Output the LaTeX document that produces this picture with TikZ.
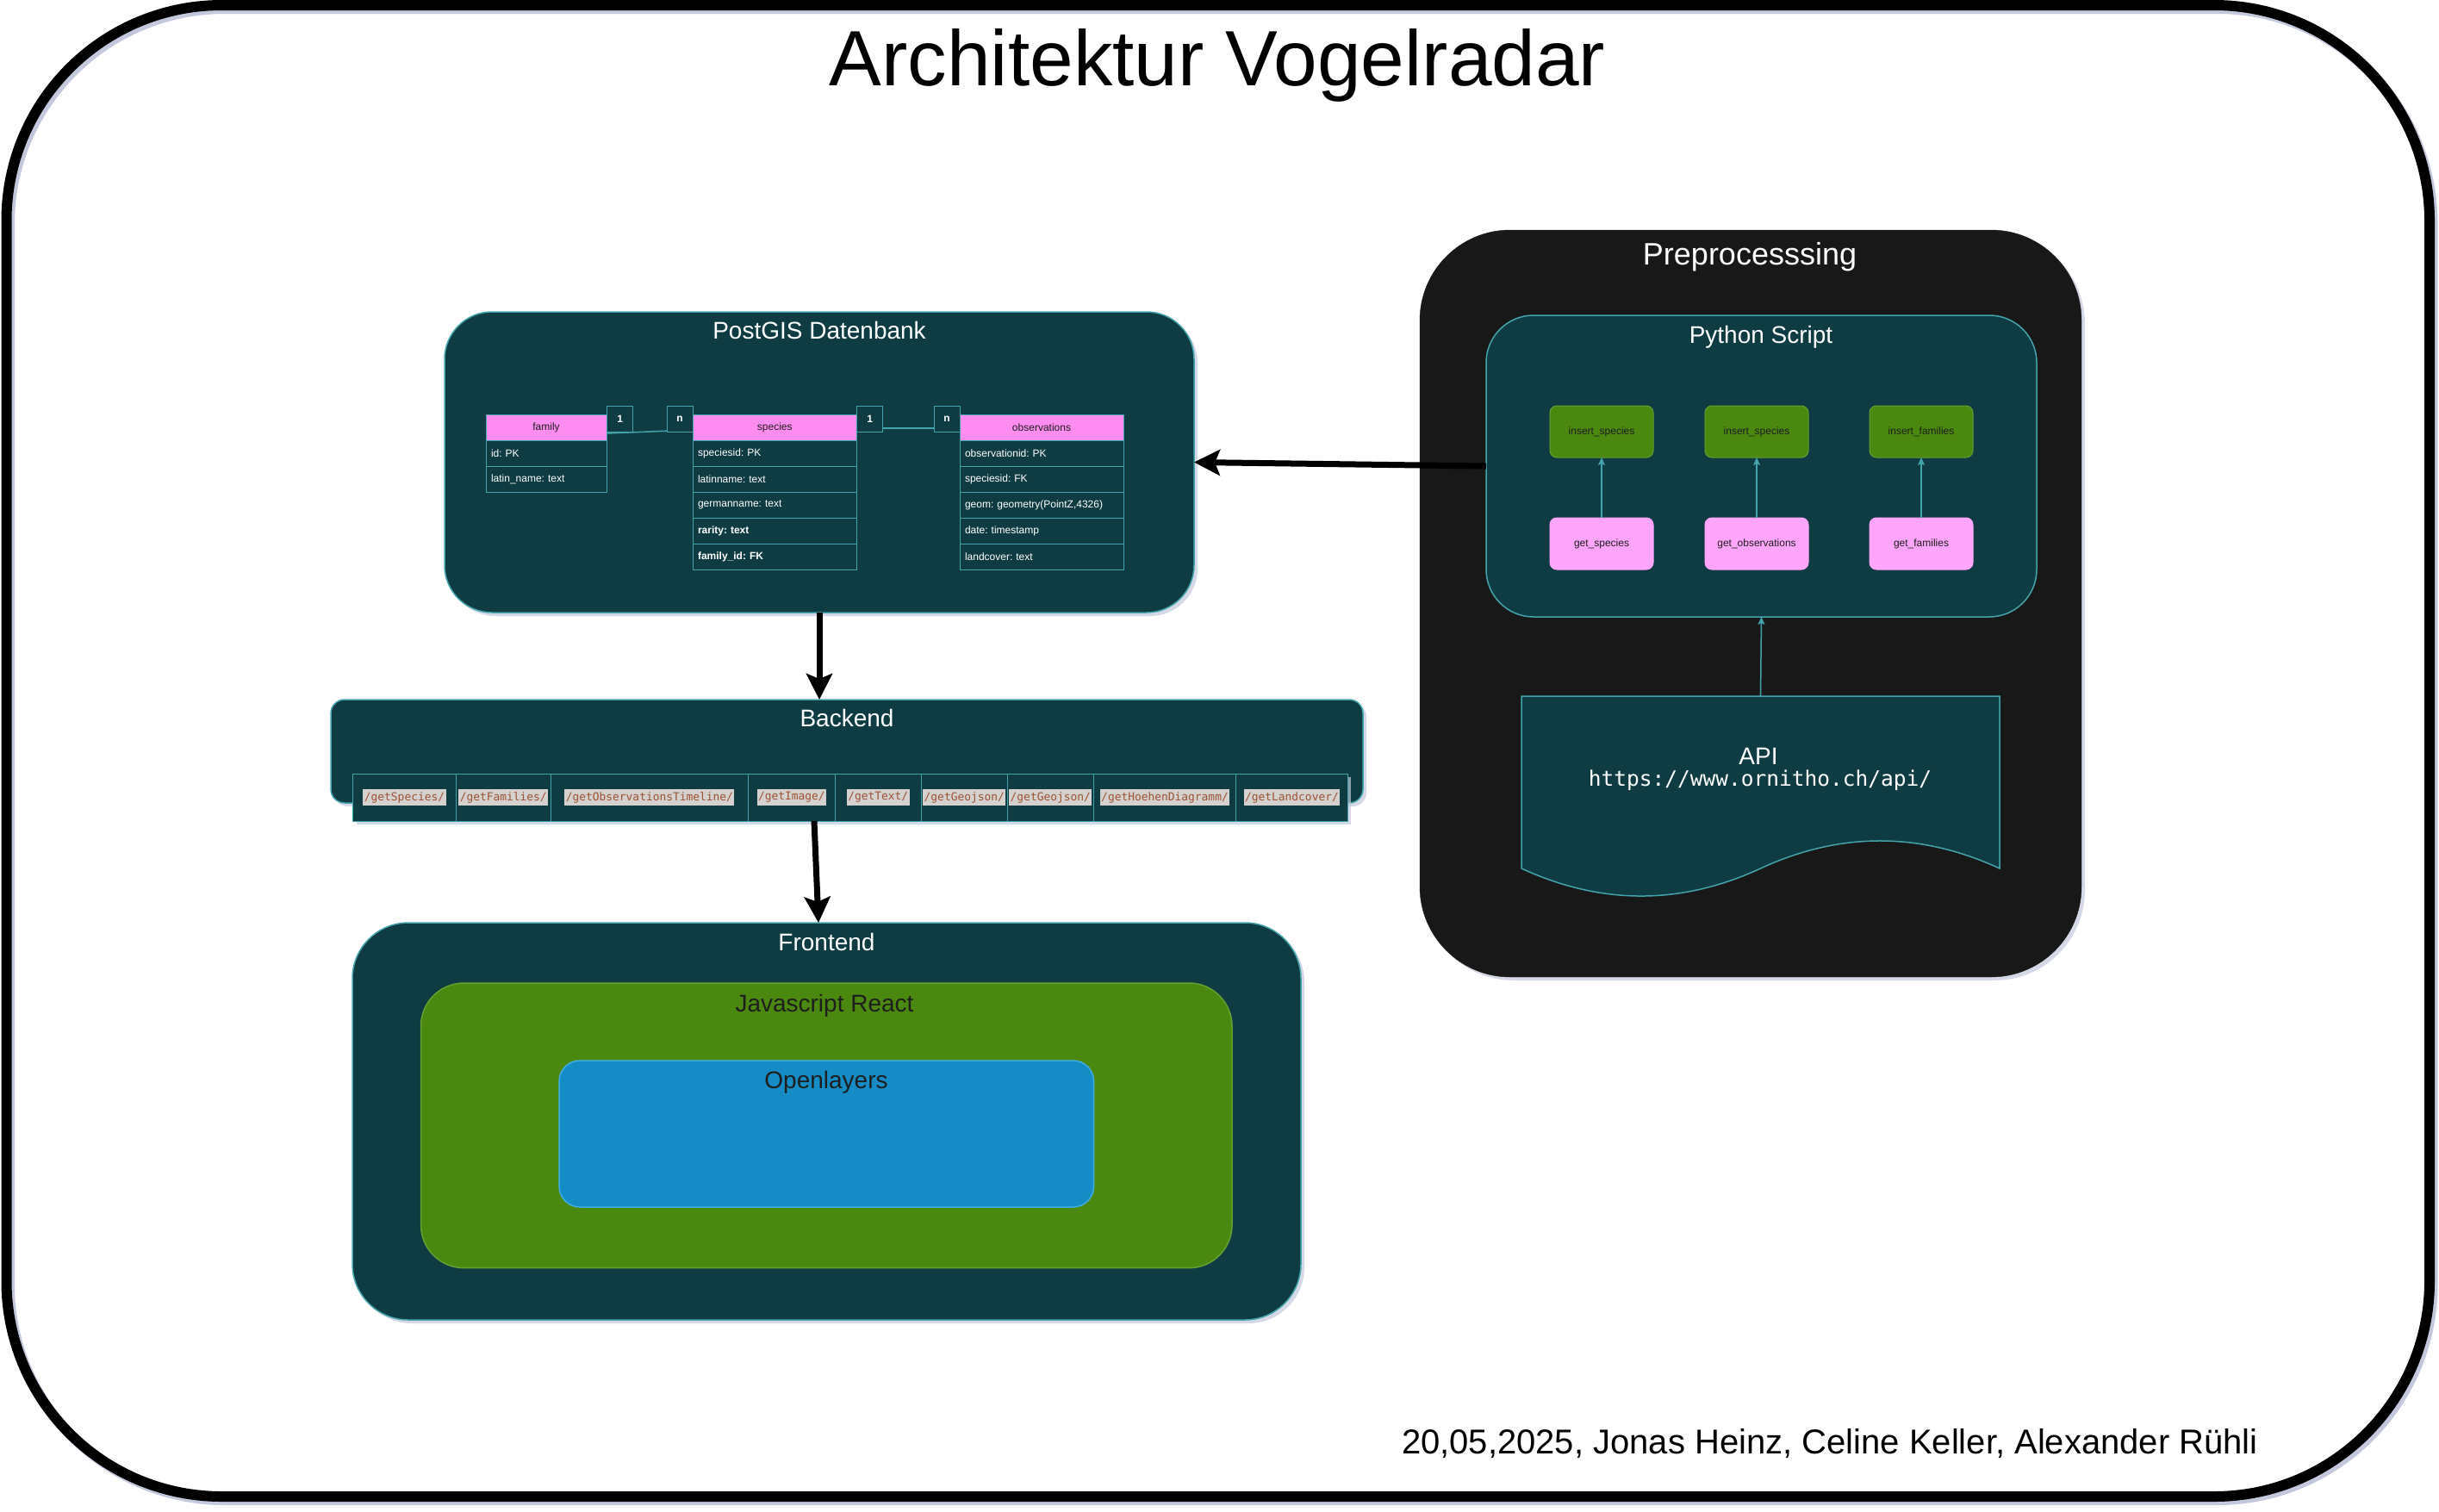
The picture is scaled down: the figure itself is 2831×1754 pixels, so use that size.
\documentclass[tikz,border=0pt]{standalone}
\usepackage{fontspec}
\setmainfont{Liberation Sans}
\newfontfamily\codefont{DejaVu Sans Mono}
\usetikzlibrary{arrows.meta,shadows}
\definecolor{dteal}{HTML}{0F3C42}
\definecolor{tline}{HTML}{44A4AC}
\definecolor{nearblack}{HTML}{181818}
\definecolor{grn}{HTML}{4A880F}
\definecolor{grnline}{HTML}{65A032}
\definecolor{pinkh}{HTML}{FF8CF0}
\definecolor{pinkb}{HTML}{FFA5FB}
\definecolor{olblue}{HTML}{168CC6}
\definecolor{olline}{HTML}{3FAEE6}
\definecolor{codebg}{HTML}{D4D1CE}
\definecolor{codefg}{HTML}{9C5233}
\definecolor{shade}{HTML}{C4C8DC}
\definecolor{darktext}{HTML}{1E1E1E}
\newcommand\FSs{\fontsize{12}{14}\selectfont}
\newcommand\FSb{\fontsize{28}{33}\selectfont}
\begin{document}
\frenchspacing
\begin{tikzpicture}[x=1pt,y=-1pt,
  every node/.style={outer sep=0pt},
  bigbox/.style={fill=dteal, draw=tline, line width=1.5pt, inner sep=0pt, anchor=north west},
  shd/.style={drop shadow={shadow xshift=4pt, shadow yshift=-4pt, fill=shade, opacity=0.7}},
  btitle/.style={anchor=base, inner sep=0pt, font=\FSb, text=white},
  dtitle/.style={anchor=base, inner sep=0pt, font=\FSb, text=darktext},
  hdr/.style={draw=tline, fill=pinkh, text=darktext, font=\FSs, line width=1pt, minimum height=30pt, inner sep=0pt, anchor=north west},
  row/.style={draw=tline, fill=dteal, text=white, font=\FSs, line width=1pt, minimum height=30pt, inner xsep=6pt, inner ysep=0pt, anchor=north west, align=left},
  rel/.style={draw=tline, fill=dteal, text=white, font=\FSs\bfseries, line width=1pt, minimum width=30pt, minimum height=30pt, inner sep=0pt, anchor=north west},
  cell/.style={fill=dteal, draw=tline, line width=1pt, minimum height=55pt, inner sep=0pt, anchor=north west},
  code/.style={fill=codebg, text=codefg, font=\codefont\fontsize{12.9}{15}\selectfont, inner xsep=1.5pt, inner ysep=0pt, minimum height=19pt},
  insbox/.style={fill=grn, draw=grnline, line width=1pt, rounded corners=8pt, minimum width=120pt, minimum height=60pt, text=darktext, font=\FSs, inner sep=0pt},
  getbox/.style={fill=pinkb, draw=pinkb, line width=1pt, rounded corners=8pt, minimum width=120pt, minimum height=60pt, text=darktext, font=\FSs, inner sep=0pt},
  tarrow/.style={draw=tline, line width=1.5pt, -{Stealth[length=9pt,width=8pt,inset=2pt]}},
  barrow/.style={draw=black, line width=7pt, -{Stealth[length=30pt,width=30pt,inset=6pt]}}
]
\useasboundingbox (0,0) rectangle (2831,1754);
\fill[white] (0,0) rectangle (2831,1754);

% outer frame
\node[draw=shade, line width=12pt, rounded corners=250pt, minimum width=2812.5pt, minimum height=1731pt, inner sep=0pt] (frameshadow) at (1417.25,875.5) {};
\node[draw=black, line width=12pt, rounded corners=250pt, minimum width=2812.5pt, minimum height=1731pt, inner sep=0pt] (frame) at (1413.75,871.5) {};

\node[anchor=base, inner sep=0pt, font=\fontsize{91}{100}\selectfont] (title) at (1413,99) {Architektur Vogelradar};

% PostGIS
\node[bigbox, shd, rounded corners=55pt, minimum width=870pt, minimum height=349pt] (pg) at (516,362) {};
\node[btitle] (pgT) at (951,393) {PostGIS Datenbank};

\node[hdr, minimum width=140pt] (famh) at (564,481) {family};
\node[row, text width=128pt] (fam1) at (564,511) {id: PK};
\node[row, text width=128pt] (fam2) at (564,541) {latin\_name: text};

\node[hdr, minimum width=190.6pt] (sph) at (804,481) {species};
\node[row, text width=178.6pt] (sp1) at (804,511) {speciesid: PK};
\node[row, text width=178.6pt] (sp2) at (804,541) {latinname: text};
\node[row, text width=178.6pt] (sp3) at (804,571) {germanname: text};
\node[row, text width=178.6pt] (sp4) at (804,601) {\textbf{rarity: text}};
\node[row, text width=178.6pt] (sp5) at (804,631) {\textbf{family\_id: FK}};

\node[hdr, minimum width=190pt] (obh) at (1114,481) {observations};
\node[row, text width=178pt] (ob1) at (1114,511) {observationid: PK};
\node[row, text width=178pt] (ob2) at (1114,541) {speciesid: FK};
\node[row, text width=178pt] (ob3) at (1114,571) {geom: geometry(PointZ,4326)};
\node[row, text width=178pt] (ob4) at (1114,601) {date: timestamp};
\node[row, text width=178pt] (ob5) at (1114,631) {landcover: text};

\draw[tline, line width=1.5pt] ([yshift=-7pt]famh.east) -- ([yshift=-3pt]sph.west);
\draw[tline, line width=1.5pt] ([yshift=-1pt]sph.east) -- ([yshift=-1pt]obh.west);

\node[rel] (r1) at (704.6,471) {1};
\node[rel] (r2) at (774,471) {n};
\node[rel] (r3) at (994.6,471) {1};
\node[rel] (r4) at (1084,471) {n};

% Backend
\node[bigbox, shd, rounded corners=16pt, minimum width=1198pt, minimum height=120pt] (be) at (384,812) {};
\node[btitle] (beT) at (983,843) {Backend};
\node[cell, shd, minimum width=1154.8pt] (ep) at (409.6,898) {};
\node[cell, minimum width=119.8pt] (c1) at (409.6,898) {};
\node[cell, minimum width=109.7pt] (c2) at (529.4,898) {};
\node[cell, minimum width=229.6pt] (c3) at (639.1,898) {};
\node[cell, minimum width=100.4pt] (c4) at (868.7,898) {};
\node[cell, minimum width=100.4pt] (c5) at (969.1,898) {};
\node[cell, minimum width=99.6pt] (c6) at (1069.5,898) {};
\node[cell, minimum width=100.4pt] (c7) at (1169.1,898) {};
\node[cell, minimum width=165pt] (c8) at (1269.5,898) {};
\node[cell, minimum width=129.9pt] (c9) at (1434.5,898) {};
\node[code] (l1) at (c1.center) {/getSpecies/};
\node[code] (l2) at (c2.center) {/getFamilies/};
\node[code] (l3) at (c3.center) {/getObservationsTimeline/};
\node[code] (l4) at (c4.center) {/getImage/};
\node[code] (l5) at (c5.center) {/getText/};
\node[code] (l6) at (c6.center) {/getGeojson/};
\node[code] (l7) at (c7.center) {/getGeojson/};
\node[code] (l8) at (c8.center) {/getHoehenDiagramm/};
\node[code] (l9) at (c9.center) {/getLandcover/};

% Frontend
\node[bigbox, shd, rounded corners=65pt, minimum width=1101pt, minimum height=461pt] (fe) at (409,1071) {};
\node[btitle] (feT) at (959.5,1103) {Frontend};
\node[fill=grn, draw=grnline, line width=1.5pt, rounded corners=50pt, minimum width=941.5pt, minimum height=330.7pt, anchor=north west, inner sep=0pt] (js) at (488.5,1141) {};
\node[dtitle] (jsT) at (957,1174) {Javascript React};
\node[fill=olblue, draw=olline, line width=1.5pt, rounded corners=24pt, minimum width=620.6pt, minimum height=170pt, anchor=north west, inner sep=0pt] (ol) at (649,1231) {};
\node[dtitle] (olT) at (959,1263) {Openlayers};

% Preprocessing
\node[fill=nearblack, draw=nearblack, shd, rounded corners=105pt, minimum width=768pt, minimum height=867pt, anchor=north west, inner sep=0pt] (pre) at (1648,267) {};
\node[anchor=base, inner sep=0pt, text=white, font=\fontsize{36}{42}\selectfont] (preT) at (2031,307) {Preprocesssing};
\node[bigbox, rounded corners=55pt, minimum width=639pt, minimum height=350pt] (ps) at (1725,366) {};
\node[btitle] (psT) at (2044,398) {Python Script};

\node[insbox] (is1) at (1859,501) {insert\_species};
\node[insbox] (is2) at (2039,501) {insert\_species};
\node[insbox] (is3) at (2230,501) {insert\_families};
\node[getbox] (gs1) at (1859,631) {get\_species};
\node[getbox] (gs2) at (2039,631) {get\_observations};
\node[getbox] (gs3) at (2230,631) {get\_families};
\draw[tarrow] (gs1.north) -- (is1.south);
\draw[tarrow] (gs2.north) -- (is2.south);
\draw[tarrow] (gs3.north) -- (is3.south);

% API document
\node[minimum width=555pt, minimum height=232pt, anchor=north west, inner sep=0pt] (api) at (1766,808) {};
\draw[fill=dteal, draw=tline, line width=1.5pt] (api.north west) -- (api.north east) -- (2321,1008)
  .. controls (2228.3,965.3) and (2135.8,965.3) .. (2043.5,1008)
  .. controls (1951.2,1050.7) and (1858.7,1050.7) .. (1766,1008) -- cycle;
\node[btitle] (apiT) at (2041,887) {API};
\node[anchor=base, inner sep=0pt, text=white, font=\codefont\fontsize{24.5}{28}\selectfont] (apiU) at (2043,912) {https://www.ornitho.ch/api/};
\draw[tarrow] (api.north) -- (ps.south);

% main arrows
\coordinate (xa) at (945,0);
\coordinate (xb) at (950,0);
\draw[barrow] (pg.south) -- (pg.south |- be.north);
\draw[barrow] (ep.south -| xa) -- (fe.north -| xb);
\draw[barrow] (ps.west) -- (pg.east);

\node[anchor=base west, inner sep=0pt, font=\fontsize{40}{46}\selectfont] (footer) at (1627,1687) {20,05,2025, Jonas Heinz, Celine Keller, Alexander Rühli};
\end{tikzpicture}
\end{document}
